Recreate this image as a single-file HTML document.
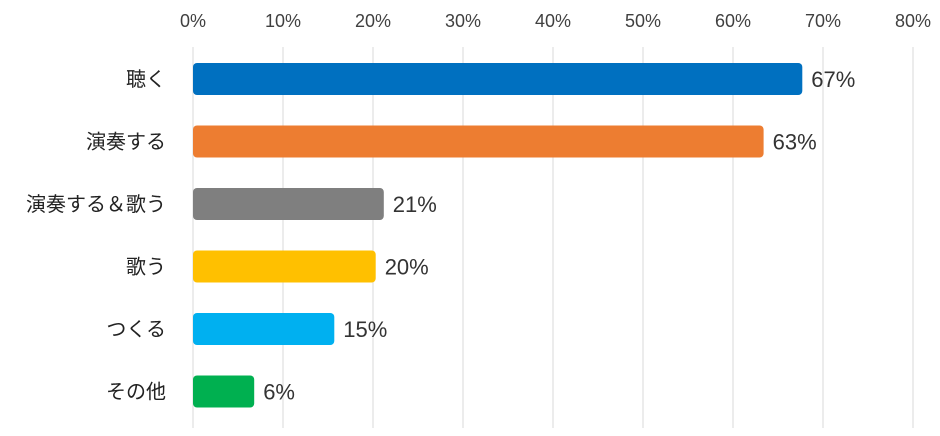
<!DOCTYPE html>
<html><head><meta charset="utf-8"><style>
body{margin:0;background:#fff}
svg text{font-family:"Liberation Sans","Noto Sans CJK JP",sans-serif}
</style></head><body>
<svg width="940" height="431" id="c"></svg>
<script>
const categories=["聴く","演奏する","演奏する＆歌う","歌う","つくる","その他"];
const values=[67.7,63.4,21.2,20.3,15.7,6.8];
const valueLabels=["67%","63%","21%","20%","15%","6%"];
const ticks=[0,10,20,30,40,50,60,70,80];
const colors=["#0070c0","#ed7d31","#7f7f7f","#ffc000","#00b0f0","#00b050"];
const svg=document.getElementById('c');
const NS="http://www.w3.org/2000/svg";
const x=v=>193+v*9.0;
const yC=i=>79+i*62.5;
function mk(t,a,txt){const e=document.createElementNS(NS,t);for(const k in a)e.setAttribute(k,a[k]);if(txt!=null)e.textContent=txt;svg.appendChild(e);return e;}
ticks.forEach(t=>{
 const g=mk('line',{x1:x(t),x2:x(t),y1:47,y2:428,stroke:'#d9d9d9','stroke-width':1});
 
 
 const l=mk('text',{x:x(t),y:27,'text-anchor':'middle','font-size':18,fill:'#404040'},t+'%');
 
 
});
categories.forEach((c,i)=>{
 const b=mk('rect',{x:x(0),y:yC(i)-16,width:x(values[i])-x(0),height:32,rx:4,fill:colors[i]});
 
 
 const l=mk('text',{x:166,y:yC(i)+7,'text-anchor':'end','font-size':20,fill:'#222'},c);
 
 
 const v=mk('text',{x:x(values[i])+9,y:yC(i)+8,'font-size':22,fill:'#333'},valueLabels[i]);
 
 
});
</script>
</body></html>
